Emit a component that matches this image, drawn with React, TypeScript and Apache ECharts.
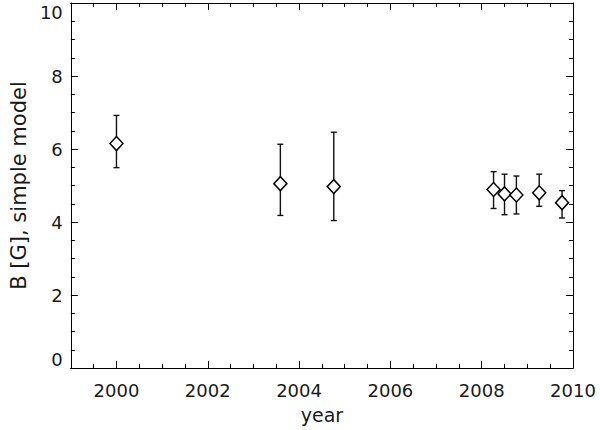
import React, { useEffect, useRef } from "react";
import * as echarts from "echarts";

const years = [2000.0, 2003.59, 2004.76, 2008.26, 2008.5, 2008.76, 2009.26, 2009.76];
const values = [6.15, 5.05, 4.97, 4.89, 4.77, 4.74, 4.8, 4.53];
const errHigh = [6.92, 6.13, 6.46, 5.38, 5.31, 5.26, 5.31, 4.86];
const errLow = [5.49, 4.18, 4.04, 4.37, 4.2, 4.22, 4.43, 4.11];
const xMajorTicks = [2000, 2002, 2004, 2006, 2008, 2010];
const xMin = 1999;
const xMax = 2010;
const yMin = 0;
const yMax = 10;

const FONT = "DejaVu Sans";

export default function App() {
  const ref = useRef<HTMLDivElement>(null);
  useEffect(() => {
    if (!ref.current) return;
    const chart = echarts.init(ref.current, null, { renderer: "svg" });
    const axisLine = { show: true, lineStyle: { color: "#000", width: 1 } };
    const labelStyle = { color: "#1a1a1a", fontFamily: FONT, fontSize: 18 };
    const nameStyle = { color: "#1a1a1a", fontFamily: FONT, fontSize: 19 };
    const yNameStyle = { color: "#1a1a1a", fontFamily: FONT, fontSize: 21 };
    const mkX = (pos: "bottom" | "top", major: boolean, showLabel: boolean, withName: boolean) => ({
      type: "value",
      position: pos,
      min: xMin,
      max: xMax,
      ...(major ? {} : { interval: 0.5 }),
      name: withName ? "year" : "",
      nameLocation: "middle",
      nameGap: 37,
      nameTextStyle: nameStyle,
      axisLine,
      splitLine: { show: false },
      axisTick: major
        ? { show: true, inside: true, length: 7, customValues: xMajorTicks, lineStyle: { color: "#000" } }
        : { show: true, inside: true, length: 4, lineStyle: { color: "#000" } },
      axisLabel: showLabel
        ? {
            show: true,
            customValues: xMajorTicks,
            margin: 13,
            formatter: (v: number) => String(Math.round(v)),
            ...labelStyle,
          }
        : { show: false },
    });
    const mkY = (pos: "left" | "right", showLabel: boolean) => ({
      type: "value",
      position: pos,
      min: yMin,
      max: yMax,
      interval: 2,
      name: showLabel ? "B [G], simple model" : "",
      nameLocation: "middle",
      nameGap: 41,
      nameTextStyle: yNameStyle,
      axisLine,
      splitLine: { show: false },
      axisTick: { show: true, inside: true, length: 7, lineStyle: { color: "#000" } },
      minorTick: { show: true, splitNumber: 4, length: 4, lineStyle: { color: "#000" } },
      axisLabel: showLabel
        ? {
            show: true,
            margin: 8,
            verticalAlignMinLabel: "bottom",
            verticalAlignMaxLabel: "top",
            ...labelStyle,
          }
        : { show: false },
    });
    const errData = years.map((y, i) => [y, errLow[i], errHigh[i]]);
    chart.setOption({
      animation: false,
      backgroundColor: "#fff",
      grid: { left: 69, right: 27, top: 3, bottom: 62, containLabel: false },
      xAxis: [
        mkX("bottom", true, true, true),
        mkX("bottom", false, false, false),
        mkX("top", true, false, false),
        mkX("top", false, false, false),
      ],
      yAxis: [mkY("left", true), mkY("right", false)],
      series: [
        {
          type: "custom",
          xAxisIndex: 0,
          yAxisIndex: 0,
          data: errData,
          renderItem: (params: any, api: any) => {
            const x = api.value(0);
            const lo = api.coord([x, api.value(1)]);
            const hi = api.coord([x, api.value(2)]);
            const cap = 3;
            const style = { stroke: "#111", lineWidth: 1.4 };
            return {
              type: "group",
              children: [
                { type: "line", shape: { x1: lo[0], y1: lo[1], x2: hi[0], y2: hi[1] }, style },
                { type: "line", shape: { x1: lo[0] - cap, y1: lo[1], x2: lo[0] + cap, y2: lo[1] }, style },
                { type: "line", shape: { x1: hi[0] - cap, y1: hi[1], x2: hi[0] + cap, y2: hi[1] }, style },
              ],
            };
          },
          z: 2,
        },
        {
          type: "scatter",
          xAxisIndex: 0,
          yAxisIndex: 0,
          data: years.map((y, i) => [y, values[i]]),
          symbol: "diamond",
          symbolSize: [13, 14],
          itemStyle: { color: "#fff", borderColor: "#000", borderWidth: 1.5, opacity: 1 },
          emphasis: { disabled: true },
          z: 3,
        },
      ],
    });
    return () => chart.dispose();
  }, []);
  return (
    <div
      ref={ref}
      style={{ position: "fixed", left: 0, top: 0, width: 600, height: 430, background: "#fff" }}
    />
  );
}
